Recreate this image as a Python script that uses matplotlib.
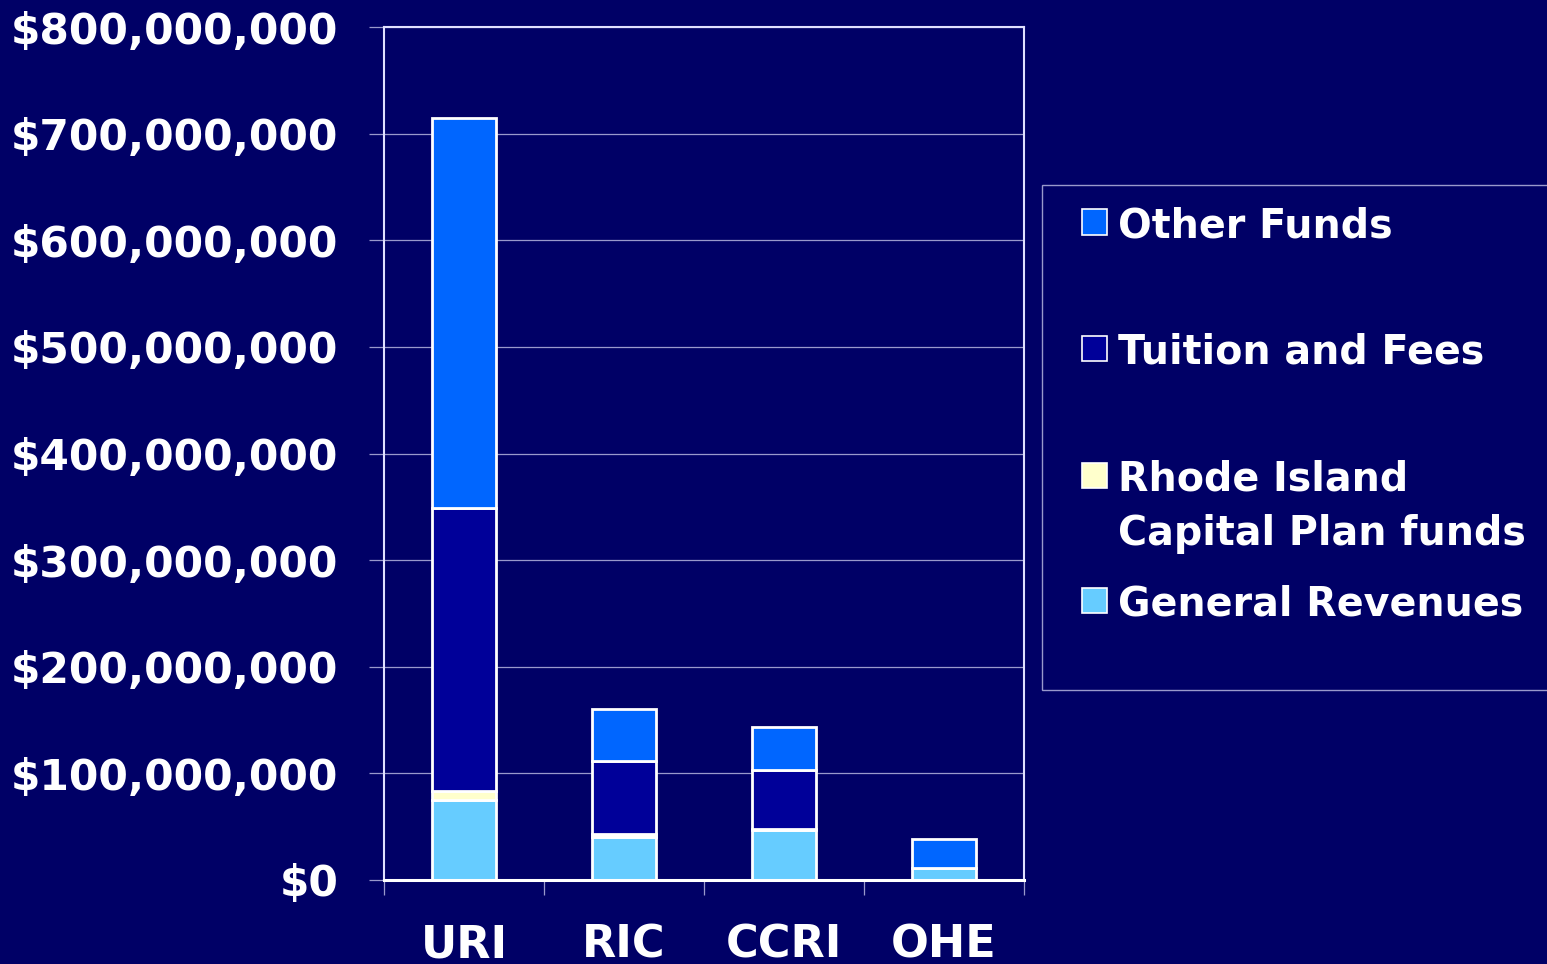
import numpy as np
import matplotlib
matplotlib.use("Agg")
import matplotlib.pyplot as plt
from matplotlib.patches import Rectangle
from matplotlib.ticker import FuncFormatter, FixedLocator

# values in dollars
schools = ['URI', 'RIC', 'CCRI', 'OHE']
general_rev = [75e6, 40e6, 47e6, 11e6]
capital_plan = [8.5e6, 3.5e6, 1e6, 0]
tuition_fees = [265e6, 68.5e6, 55e6, 0]
other_funds = [366e6, 48.5e6, 40.5e6, 27.5e6]

series_names = ['Other Funds', 'Tuition and Fees',
                'Rhode Island\nCapital Plan funds', 'General Revenues']
y_ticks = np.arange(0, 800e6 + 1, 100e6)

bg = '#000066'
col_other = '#0066ff'
col_tuition = '#000099'
col_capital = '#ffffcc'
col_general = '#66ccff'

plt.rcParams['font.family'] = ['DejaVu Sans']
plt.rcParams['font.weight'] = 'bold'

W, H = 1547, 964
fig = plt.figure(figsize=(W / 100, H / 100), dpi=100, facecolor=bg)
ax = fig.add_axes([384 / W, (H - 880) / H, 640 / W, 853 / H])
ax.set_facecolor(bg)

x = np.arange(len(schools))
bw = 0.4
stack = [(general_rev, col_general), (capital_plan, col_capital),
         (tuition_fees, col_tuition), (other_funds, col_other)]
bottom = np.zeros(len(schools))
for vals, c in stack:
    vals = np.array(vals)
    ax.bar(x, vals, bw, bottom=bottom, color=c, edgecolor='white',
           linewidth=2.0, zorder=3)
    bottom += vals

ax.set_xlim(-0.5, len(schools) - 0.5)
ax.set_ylim(0, 800e6)
ax.set_yticks(y_ticks)
ax.yaxis.set_major_formatter(FuncFormatter(lambda v, p: '${:,.0f}'.format(v)))
ax.grid(axis='y', color='#9999cc', linewidth=0.9, zorder=0)

# ticks between categories, labels at the centres
ax.xaxis.set_major_locator(FixedLocator(np.arange(len(schools) + 1) - 0.5))
ax.xaxis.set_minor_locator(FixedLocator(x))
ax.set_xticklabels([''] * (len(schools) + 1))
ax.set_xticklabels(schools, minor=True)
ax.tick_params(axis='x', which='major', length=11, width=0.9, color='#9999cc')
ax.tick_params(axis='x', which='minor', length=0, pad=31, labelsize=32,
               labelcolor='white')
ax.tick_params(axis='y', length=11, width=0.9, color='#9999cc', pad=22,
               labelsize=30.5, labelcolor='white')

for s in ['left', 'top', 'right']:
    ax.spines[s].set_color('#e0e0ff')
    ax.spines[s].set_linewidth(1.5)
ax.spines['bottom'].set_color('white')
ax.spines['bottom'].set_linewidth(2.2)
ax.spines['bottom'].set_zorder(4)

# legend box, drawn by hand to get the PowerPoint look
fig.patches.append(Rectangle((1042 / W, (H - 690) / H), 520 / W, 505 / H,
                             transform=fig.transFigure, facecolor=bg,
                             edgecolor='#9999cc', linewidth=1))
legend_cols = [col_other, col_tuition, col_capital, col_general]
legend_y = [222, 348, 475, 600]
for name, c, yc in zip(series_names, legend_cols, legend_y):
    fig.patches.append(Rectangle((1082 / W, (H - yc - 12.5) / H), 25 / W, 25 / H,
                                 transform=fig.transFigure, facecolor=c,
                                 edgecolor='white', linewidth=1.2))
    for i, ln in enumerate(name.split('\n')):
        fig.text(1118 / W, (H - yc - i * 55) / H, ln, color='white',
                 fontsize=28.5, fontweight='bold', va='center_baseline',
                 ha='left')

fig.savefig('out.png', dpi=100, facecolor=bg)
